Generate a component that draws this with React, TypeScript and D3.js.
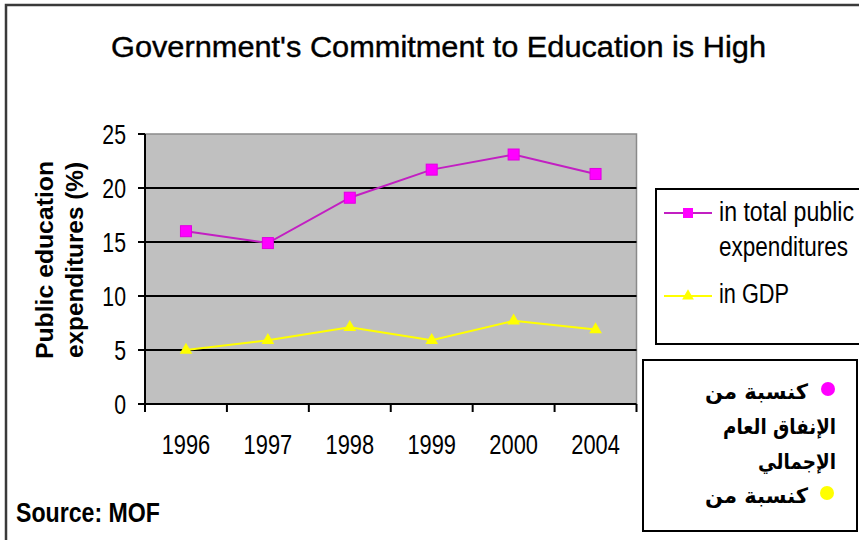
import React from "react";
import * as d3 from "d3";

const years = ["1996", "1997", "1998", "1999", "2000", "2004"];
const totalPublic = [16.0, 14.9, 19.1, 21.7, 23.1, 21.3];
const gdp = [5.0, 5.9, 7.1, 5.9, 7.7, 6.9];
const yTicks = [0, 5, 10, 15, 20, 25];
const seriesNames = ["in total public", "expenditures", "in GDP"];
const arabicLines = ["كنسبة من", "الإنفاق العام", "الإجمالي", "كنسبة من"];

const W = 859;
const H = 540;
const FONT = "'Liberation Sans', Arial, sans-serif";

export default function App() {
  const x = d3.scaleBand<string>().domain(years).range([145, 636.5]);
  const y = d3.scaleLinear().domain([0, 25]).range([404, 134]);
  const cx = (d: string) => (x(d) as number) + x.bandwidth() / 2;

  const line = d3
    .line<number>()
    .x((_, i) => cx(years[i]))
    .y((v) => y(v));

  const tri = d3.symbol().type(d3.symbolTriangle).size(70)();
  const triLeg = d3.symbol().type(d3.symbolTriangle).size(60)();

  const edges = [...years.map((d) => x(d) as number), x.range()[1]];

  return (
    <svg
      width={W}
      height={H}
      style={{ position: "absolute", left: 0, top: 0, background: "#fff" }}
      fontFamily={FONT}
    >
      <rect x={0} y={0} width={W} height={H} fill="#fff" />
      {/* outer frame */}
      <rect x={6} y={5} width={W + 50} height={H + 50} fill="none" stroke="#3a3a3a" strokeWidth={2.5} />

      {/* title */}
      <text x={438.5} y={57} textAnchor="middle" fontSize={30} fill="#000" stroke="#000" strokeWidth={0.4} textLength={655} lengthAdjust="spacingAndGlyphs">
        Government's Commitment to Education is High
      </text>

      {/* plot area */}
      <rect
        x={x.range()[0]}
        y={y(25)}
        width={x.range()[1] - x.range()[0]}
        height={y(0) - y(25)}
        fill="#c0c0c0"
        stroke="#8a8a8a"
        strokeWidth={1.5}
      />
      {yTicks
        .filter((t) => t > 0 && t < 25)
        .map((t) => (
          <line key={t} x1={x.range()[0]} x2={x.range()[1]} y1={y(t)} y2={y(t)} stroke="#000" strokeWidth={2} />
        ))}
      {/* axes */}
      <line x1={x.range()[0]} x2={x.range()[0]} y1={y(25)} y2={y(0)} stroke="#000" strokeWidth={2} />
      <line x1={x.range()[0] - 7} x2={x.range()[1]} y1={y(0)} y2={y(0)} stroke="#000" strokeWidth={2} />
      {yTicks.map((t) => (
        <g key={t}>
          <line x1={x.range()[0] - 7} x2={x.range()[0]} y1={y(t)} y2={y(t)} stroke="#000" strokeWidth={2} />
          <text
            transform={`translate(${126},${y(t) + 10}) scale(0.76,1)`}
            textAnchor="end"
            fontSize={28}
            fill="#000"
          >
            {t}
          </text>
        </g>
      ))}
      {edges.map((e, i) => (
        <line key={i} x1={e} x2={e} y1={y(0)} y2={y(0) + 8} stroke="#000" strokeWidth={2} />
      ))}
      {years.map((d) => (
        <text
          key={d}
          transform={`translate(${cx(d)},${454}) scale(0.78,1)`}
          textAnchor="middle"
          fontSize={28}
          fill="#000"
        >
          {d}
        </text>
      ))}

      {/* y label */}
      <g transform={`translate(53,260) rotate(-90)`}>
        <text x={0} y={0} textAnchor="middle" fontSize={24} fontWeight="bold" fill="#000" textLength={198} lengthAdjust="spacingAndGlyphs">
          Public education
        </text>
        <text x={0} y={30} textAnchor="middle" fontSize={24} fontWeight="bold" fill="#000" textLength={196} lengthAdjust="spacingAndGlyphs">
          expenditures (%)
        </text>
      </g>

      {/* series */}
      <path d={line(totalPublic) as string} fill="none" stroke="#c21fc2" strokeWidth={2} />
      {totalPublic.map((v, i) => (
        <rect key={i} x={cx(years[i]) - 5.5} y={y(v) - 5.5} width={11} height={11} fill="#ff00ff" stroke="#e000e0" strokeWidth={1} />
      ))}
      <path d={line(gdp) as string} fill="none" stroke="#ffff00" strokeWidth={2} />
      {gdp.map((v, i) => (
        <path key={i} d={tri as string} transform={`translate(${cx(years[i])},${y(v)})`} fill="#ffff00" />
      ))}

      {/* legend */}
      <rect x={656} y={189} width={240} height={155} fill="#fff" stroke="#000" strokeWidth={2} />
      <line x1={664} x2={712} y1={213} y2={213} stroke="#c21fc2" strokeWidth={2} />
      <rect x={683} y={208} width={10} height={10} fill="#ff00ff" />
      <line x1={664} x2={712} y1={296} y2={296} stroke="#ffff00" strokeWidth={2} />
      <path d={triLeg as string} transform="translate(688,296)" fill="#ffff00" />
      <text x={719} y={221} fontSize={27} fill="#000" textLength={135} lengthAdjust="spacingAndGlyphs">
        {seriesNames[0]}
      </text>
      <text x={719} y={256} fontSize={27} fill="#000" textLength={129} lengthAdjust="spacingAndGlyphs">
        {seriesNames[1]}
      </text>
      <text x={719} y={303} fontSize={27} fill="#000" textLength={70} lengthAdjust="spacingAndGlyphs">
        {seriesNames[2]}
      </text>

      {/* arabic box */}
      <rect x={643} y={360} width={214} height={171} fill="#fff" stroke="#000" strokeWidth={2} />
      <circle cx={828} cy={389} r={7} fill="#ff00ff" />
      <circle cx={827} cy={493} r={7} fill="#ffff00" />
      <text x={808} y={399} textAnchor="end" fontSize={21} fontWeight="bold" fontFamily="'DejaVu Sans', sans-serif" fill="#000" textLength={103} lengthAdjust="spacingAndGlyphs">
        {arabicLines[0]}
      </text>
      <text x={836} y={434} textAnchor="end" fontSize={21} fontWeight="bold" fontFamily="'DejaVu Sans', sans-serif" fill="#000" textLength={113} lengthAdjust="spacingAndGlyphs">
        {arabicLines[1]}
      </text>
      <text x={836} y={469} textAnchor="end" fontSize={21} fontWeight="bold" fontFamily="'DejaVu Sans', sans-serif" fill="#000" textLength={78} lengthAdjust="spacingAndGlyphs">
        {arabicLines[2]}
      </text>
      <text x={808} y={503} textAnchor="end" fontSize={21} fontWeight="bold" fontFamily="'DejaVu Sans', sans-serif" fill="#000" textLength={103} lengthAdjust="spacingAndGlyphs">
        {arabicLines[3]}
      </text>

      {/* source */}
      <text x={16} y={522} fontSize={28} fontWeight="bold" fill="#000" textLength={144} lengthAdjust="spacingAndGlyphs">
        Source: MOF
      </text>
    </svg>
  );
}
